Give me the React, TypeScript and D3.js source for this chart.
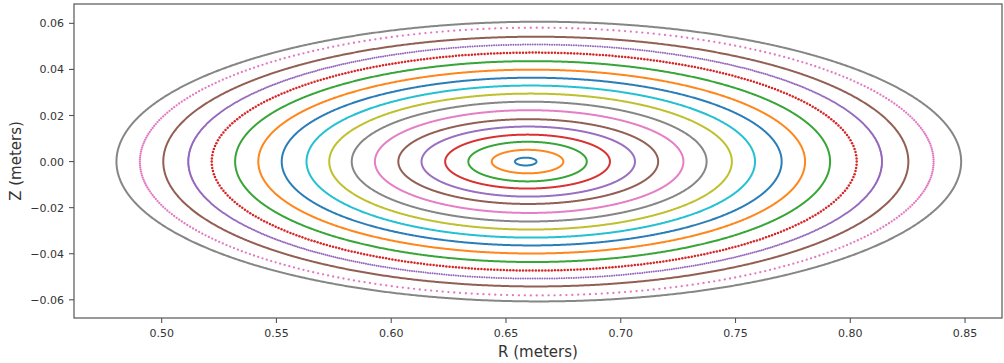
import React from "react";
import * as d3 from "d3";

// Flux-surface rings, inner to outer
const ringCenterR = [0.6586, 0.6594, 0.6594, 0.6594, 0.6597, 0.6597, 0.6601, 0.6601, 0.6607, 0.6608, 0.6612, 0.6612, 0.6616, 0.6623, 0.6627, 0.663, 0.6634, 0.6643];
const ringHalfWidthR = [0.0047, 0.0156, 0.0258, 0.0359, 0.0465, 0.0566, 0.0672, 0.0773, 0.0877, 0.0977, 0.1089, 0.1191, 0.1296, 0.1405, 0.1511, 0.1623, 0.1729, 0.184];
const ringHalfHeightZ = [0.0017, 0.0051, 0.0086, 0.0117, 0.0152, 0.0184, 0.0223, 0.026, 0.0295, 0.033, 0.0364, 0.0399, 0.0436, 0.0473, 0.0508, 0.0542, 0.0581, 0.0607];
// number of Poincaré dots (0 = dense, drawn as continuous)
const ringDotCount = [0, 0, 0, 0, 0, 0, 0, 0, 0, 0, 0, 0, 0, 450, 900, 0, 420, 0];
const ringDotSize = [0, 0, 0, 0, 0, 0, 0, 0, 0, 0, 0, 0, 0, 1.25, 1.0, 0, 1.15, 0];
// dot spacing: "arc" = even along the curve, "angle" = even in poloidal angle
const ringDotSpacing = ["", "", "", "", "", "", "", "", "", "", "", "", "", "arc", "angle", "", "angle", ""];

const xTicks = [0.5, 0.55, 0.6, 0.65, 0.7, 0.75, 0.8, 0.85];
const yTicks = [-0.06, -0.04, -0.02, 0.0, 0.02, 0.04, 0.06];
const xDomain = [0.4618, 0.8661];
const yDomain = [-0.0679, 0.0684];

const tab10 = ["#1f77b4", "#ff7f0e", "#2ca02c", "#d62728", "#9467bd", "#8c564b", "#e377c2", "#7f7f7f", "#bcbd22", "#17becf"];

const W = 1004;
const H = 363;
const left = 74, right = 1002, top = 4, bottom = 318;

export default function App() {
  const x = d3.scaleLinear().domain(xDomain).range([left, right]);
  const y = d3.scaleLinear().domain(yDomain).range([bottom, top]);
  const font = "DejaVu Sans, sans-serif";
  const fmt = (v: number) => {
    const s = d3.format(".2f")(Math.abs(v));
    return v < -1e-9 ? "\u2212" + s : s;
  };

  const rings = ringCenterR.map((r0, i) => {
    const color = tab10[i % 10];
    const a = ringHalfWidthR[i];
    const b = ringHalfHeightZ[i];
    const n = ringDotCount[i];
    const fine: [number, number][] = d3.range(0, 1441).map((k) => {
      const t = (k / 1440) * 2 * Math.PI;
      return [x(r0 + a * Math.cos(t)), y(b * Math.sin(t))];
    });
    if (n === 0) {
      const line = d3.line().curve(d3.curveLinearClosed);
      return <path key={i} d={line(fine.slice(0, 1440)) || ""} fill="none" stroke={color} strokeWidth={2} opacity={0.95} />;
    }
    let pts: [number, number][] = [];
    if (ringDotSpacing[i] === "arc") {
      const cum = [0];
      for (let k = 1; k < fine.length; k++) {
        cum.push(cum[k - 1] + Math.hypot(fine[k][0] - fine[k - 1][0], fine[k][1] - fine[k - 1][1]));
      }
      const total = cum[cum.length - 1];
      const bis = d3.bisector((d: number) => d).left;
      pts = d3.range(n).map((k) => {
        const s = (k / n) * total;
        const j = Math.max(1, bis(cum, s));
        const f = (s - cum[j - 1]) / (cum[j] - cum[j - 1] || 1);
        return [fine[j - 1][0] + f * (fine[j][0] - fine[j - 1][0]), fine[j - 1][1] + f * (fine[j][1] - fine[j - 1][1])];
      });
    } else {
      pts = d3.range(n).map((k) => {
        const t = (k / n) * 2 * Math.PI;
        return [x(r0 + a * Math.cos(t)), y(b * Math.sin(t))];
      });
    }
    return (
      <g key={i} fill={color}>
        {pts.map((p, k) => (
          <circle key={k} cx={p[0]} cy={p[1]} r={ringDotSize[i]} />
        ))}
      </g>
    );
  });

  return (
    <svg width={W} height={H} style={{ position: "absolute", left: 0, top: 0, background: "#fff" }}>
      <defs>
        <clipPath id="plotclip">
          <rect x={left} y={top} width={right - left} height={bottom - top} />
        </clipPath>
      </defs>
      <rect x={0} y={0} width={W} height={H} fill="#fff" />
      <g clipPath="url(#plotclip)">{rings}</g>
      <rect x={left} y={top} width={right - left} height={bottom - top} fill="none" stroke="#555" strokeWidth={1.2} />
      {xTicks.map((t) => (
        <g key={"x" + t}>
          <line x1={x(t)} x2={x(t)} y1={bottom} y2={bottom + 5} stroke="#555" strokeWidth={1.1} />
          <text x={x(t)} y={bottom + 19} textAnchor="middle" fontFamily={font} fontSize={11} fill="#333">
            {fmt(t)}
          </text>
        </g>
      ))}
      {yTicks.map((t) => (
        <g key={"y" + t}>
          <line x1={left - 5} x2={left} y1={y(t)} y2={y(t)} stroke="#555" strokeWidth={1.1} />
          <text x={left - 10} y={y(t) + 4} textAnchor="end" fontFamily={font} fontSize={11} fill="#333">
            {fmt(t)}
          </text>
        </g>
      ))}
      <text x={(left + right) / 2} y={357} textAnchor="middle" fontFamily={font} fontSize={15} fill="#333">
        R (meters)
      </text>
      <text
        transform={`translate(21,${(top + bottom) / 2}) rotate(-90)`}
        textAnchor="middle"
        fontFamily={font}
        fontSize={15}
        fill="#333"
      >
        Z (meters)
      </text>
    </svg>
  );
}
